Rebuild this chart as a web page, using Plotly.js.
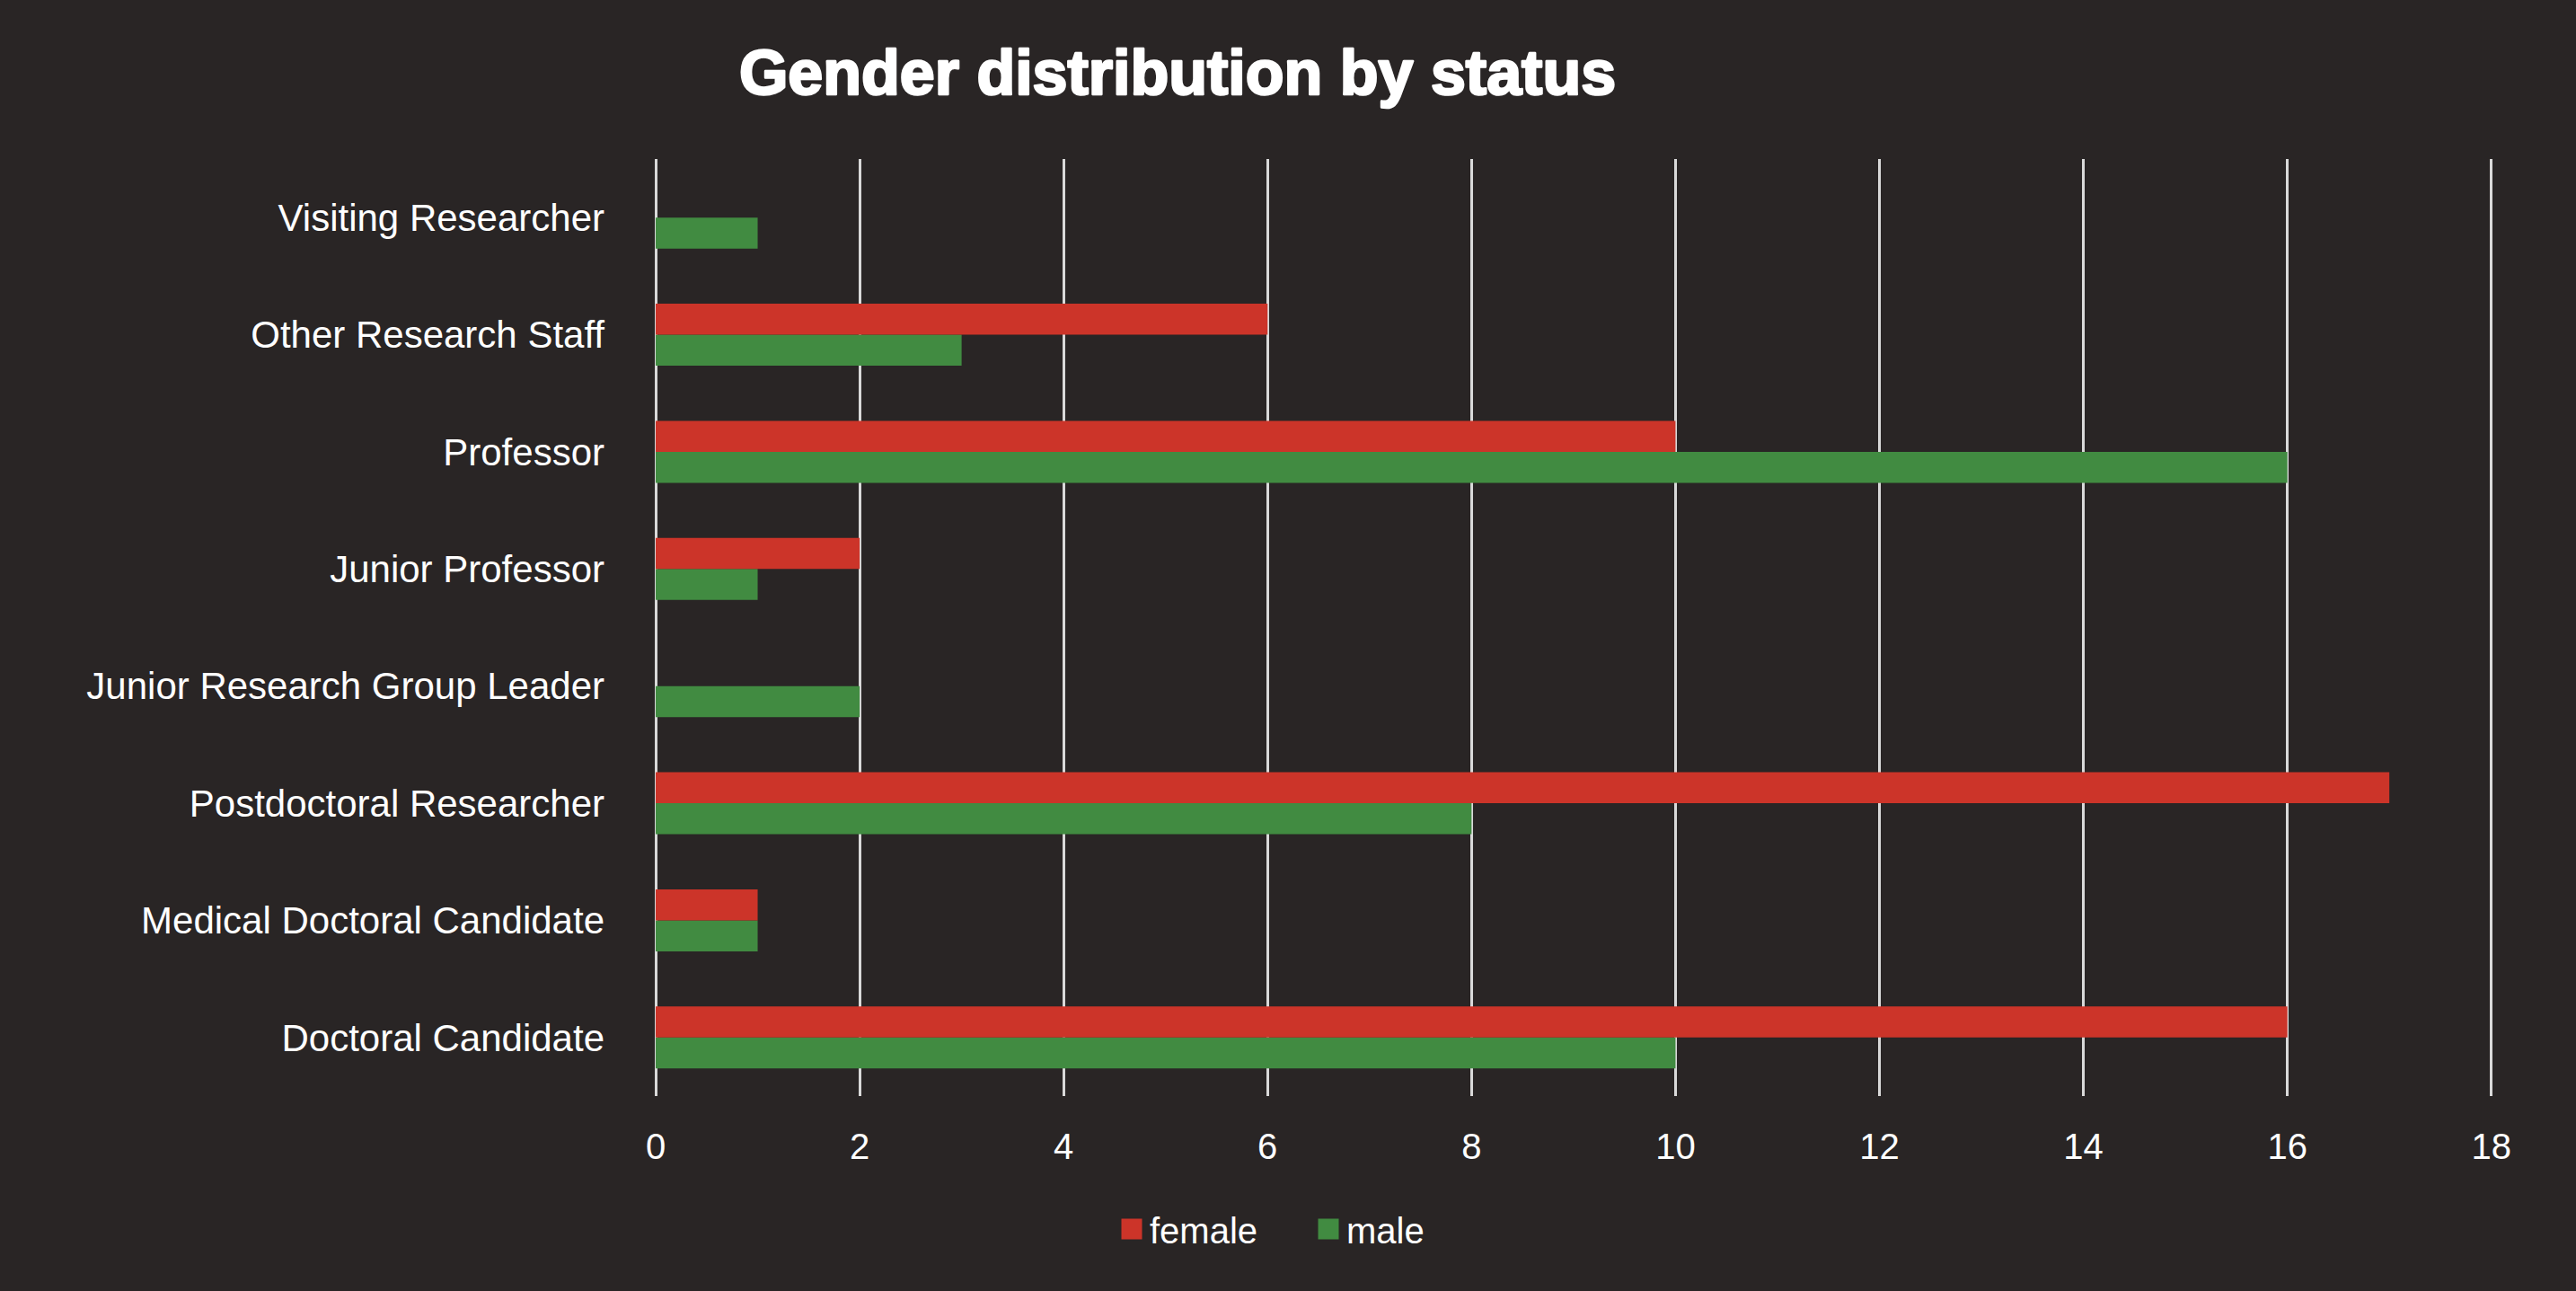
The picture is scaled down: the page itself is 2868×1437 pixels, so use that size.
<!DOCTYPE html>
<html>
<head>
<meta charset="utf-8">
<script src="https://cdn.plot.ly/plotly-3.0.1.min.js"></script>
<style>
  html, body { margin: 0; padding: 0; background: #292525; }
  #chart { width: 2868px; height: 1437px; }
  #chart .gtitle { stroke: #FFFFFF; stroke-width: 2.6px; stroke-linejoin: round; }
</style>
</head>
<body>
<div id="chart"></div>
<script>
// Categories listed bottom to top
const categories = [
  "Doctoral Candidate",
  "Medical Doctoral Candidate",
  "Postdoctoral Researcher",
  "Junior Research Group Leader",
  "Junior Professor",
  "Professor",
  "Other Research Staff",
  "Visiting Researcher"
];
const femaleValues = [16, 1, 17, 0, 2, 10, 6, 0];
const maleValues   = [10, 1, 8, 2, 1, 16, 3, 1];
const xTickValues  = [0, 2, 4, 6, 8, 10, 12, 14, 16, 18];
const chartTitle = "Gender distribution by status";

const RED = "#CC3429";
const GREEN = "#418B41";
const BG = "#292525";
const GRID = "#D9D9D9";
const FONT = "Liberation Sans, Arial, sans-serif";

const traces = [
  {
    type: "bar", orientation: "h", name: "male",
    y: categories, x: maleValues,
    marker: { color: GREEN, line: { width: 0 } },
    hoverinfo: "x+y+name"
  },
  {
    type: "bar", orientation: "h", name: "female",
    y: categories, x: femaleValues,
    marker: { color: RED, line: { width: 0 } },
    hoverinfo: "x+y+name"
  }
];

const layout = {
  width: 2868, height: 1437,
  paper_bgcolor: BG, plot_bgcolor: BG,
  font: { family: FONT, color: "#FFFFFF", size: 40 },
  margin: { l: 730, r: 92, t: 177, b: 217, pad: 0 },
  barmode: "group",
  bargap: 0.47,
  bargroupgap: 0,
  title: {
    text: chartTitle,
    font: { family: FONT, size: 70, color: "#FFFFFF", weight: 900 },
    xref: "container", yref: "container",
    x: 1311 / 2868, xanchor: "center",
    y: 1 - 80 / 1437, yanchor: "middle"
  },
  xaxis: {
    range: [0, 18.02],
    tickvals: xTickValues,
    ticktext: xTickValues.map(String),
    showgrid: true, gridcolor: GRID, gridwidth: 3,
    zeroline: true, zerolinecolor: GRID, zerolinewidth: 3,
    showline: false,
    ticks: "",
    ticklabelstandoff: 29,
    tickfont: { family: FONT, size: 40, color: "#FFFFFF" },
    fixedrange: true
  },
  yaxis: {
    type: "category",
    categoryorder: "array", categoryarray: categories,
    showgrid: false, zeroline: false, showline: false,
    ticks: "",
    ticklabelstandoff: 56,
    tickfont: { family: FONT, size: 42, color: "#FFFFFF" },
    fixedrange: true
  },
  showlegend: true,
  legend: {
    orientation: "h",
    traceorder: "reversed",
    entrywidth: 174,
    entrywidthmode: "pixels",
    xref: "container", yref: "container",
    x: 1240 / 2868, xanchor: "left",
    y: 1 - 1368 / 1437, yanchor: "middle",
    font: { family: FONT, size: 40, color: "#FFFFFF" },
    bgcolor: "rgba(0,0,0,0)",
    itemclick: false, itemdoubleclick: false
  }
};

function enlargeSwatches() {
  document.querySelectorAll("#chart .legend .legendpoints path").forEach(function (p) {
    p.setAttribute("d", "M11.5,11.5H-11.5V-11.5H11.5Z");
  });
}

Plotly.newPlot("chart", traces, layout, { displayModeBar: false, staticPlot: true }).then(function (gd) {
  enlargeSwatches();
  gd.on("plotly_afterplot", enlargeSwatches);
  setTimeout(enlargeSwatches, 50);
});
</script>
</body>
</html>
